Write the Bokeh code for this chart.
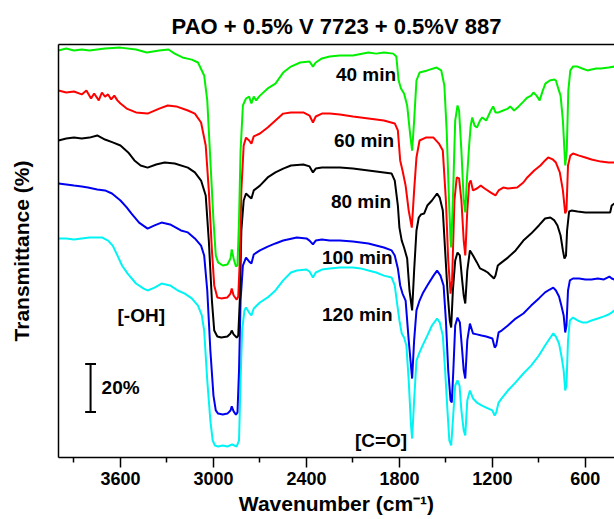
from bokeh.plotting import figure
from bokeh.models import Range1d, FixedTicker, LinearAxis, ColumnDataSource
from bokeh.core.properties import value
from bokeh.embed import file_html
from bokeh.resources import INLINE

# ---------------- data (offset transmittance, %) ----------------
wn_40 = [4000, 3950, 3900, 3850, 3800, 3700, 3600, 3500, 3430, 3350, 3290, 3250, 3200, 3140, 3100, 3060, 3040, 3020, 3000, 2985,
         2970, 2940, 2910, 2890, 2882, 2870, 2855, 2845, 2835, 2825, 2810, 2790, 2770, 2755, 2740, 2725, 2700, 2650, 2600, 2550,
         2500, 2440, 2380, 2358, 2340, 2300, 2250, 2184, 2100, 2000, 1950, 1900, 1840, 1820, 1805, 1790, 1770, 1750, 1730, 1718,
         1705, 1690, 1670, 1620, 1560, 1530, 1510, 1495, 1480, 1470, 1466, 1455, 1440, 1425, 1415, 1400, 1385, 1375, 1365, 1350,
         1340, 1330, 1315, 1300, 1280, 1265, 1240, 1210, 1195, 1180, 1160, 1130, 1100, 1085, 1060, 1030, 1000, 975, 950, 935,
         915, 895, 875, 858, 830, 800, 790, 775, 760, 745, 730, 720, 710, 697, 680, 650, 620, 587, 560, 530, 500, 450, 413]
t_40 = [169.6, 170.4, 169.6, 170.0, 169.6, 170.4, 170.8, 170.0, 168.8, 169.6, 170.0, 168.3, 166.7, 165.8, 164.6, 159.2, 148.8, 123.8, 98.8, 84.2,
        81.3, 80.0, 80.4, 82.9, 86.7, 82.9, 79.6, 80.0, 98.8, 127.9, 146.7, 149.6, 150.4, 147.5, 150.4, 148.8, 150.8, 153.8, 155.8, 160.4,
        162.9, 164.6, 165.0, 162.9, 164.6, 166.3, 167.1, 167.5, 167.5, 168.8, 168.3, 168.8, 168.3, 167.1, 157.1, 153.8, 151.7, 146.7, 134.2, 127.9,
        140.4, 157.1, 160.4, 161.3, 162.5, 161.3, 155.0, 136.3, 107.1, 90.4, 87.5, 107.1, 140.4, 146.7, 144.6, 127.9, 107.1, 102.1, 115.4, 130.0,
        138.3, 141.7, 138.3, 137.5, 140.4, 141.7, 140.4, 144.6, 146.3, 143.8, 143.8, 144.6, 145.4, 146.3, 144.6, 146.3, 148.3, 150.0, 150.8, 152.1,
        150.8, 148.8, 152.9, 155.8, 157.1, 157.5, 157.1, 153.8, 150.8, 140.4, 121.7, 127.9, 152.9, 161.3, 162.9, 162.9, 162.1, 161.3, 161.7, 162.1, 162.1, 162.5, 162.9]

wn_60 = [4000, 3950, 3900, 3850, 3820, 3790, 3770, 3740, 3720, 3700, 3680, 3660, 3640, 3620, 3600, 3560, 3500, 3425, 3350, 3295,
         3240, 3165, 3120, 3080, 3050, 3030, 3010, 2995, 2975, 2950, 2910, 2890, 2882, 2870, 2850, 2840, 2830, 2820, 2805, 2790,
         2770, 2755, 2740, 2700, 2650, 2600, 2550, 2500, 2420, 2380, 2358, 2340, 2300, 2250, 2184, 2100, 2000, 1900, 1830, 1810,
         1795, 1780, 1760, 1740, 1720, 1705, 1690, 1670, 1630, 1580, 1545, 1520, 1500, 1485, 1470, 1460, 1445, 1430, 1415, 1400,
         1385, 1375, 1362, 1350, 1340, 1325, 1300, 1275, 1250, 1210, 1180, 1160, 1130, 1100, 1040, 1000, 975, 930, 890, 860,
         840, 810, 790, 765, 745, 730, 722, 712, 697, 680, 640, 600, 560, 500, 450, 413]
t_60 = [152.9, 152.1, 152.5, 151.3, 152.9, 149.6, 151.7, 148.8, 152.1, 150.4, 151.3, 149.2, 150.8, 148.8, 147.5, 145.4, 143.8, 143.3, 145.4, 146.7,
        146.3, 144.6, 143.3, 139.6, 130.0, 111.3, 86.3, 71.7, 66.7, 66.3, 66.7, 68.3, 70.4, 67.5, 65.8, 67.1, 82.1, 111.3, 130.0, 133.3,
        132.1, 130.8, 133.8, 135.0, 137.5, 140.4, 143.3, 143.8, 143.8, 142.5, 139.6, 142.1, 143.3, 143.3, 142.9, 142.1, 141.3, 140.4, 139.2, 136.3,
        123.8, 119.6, 113.3, 102.9, 95.8, 111.3, 125.0, 132.1, 133.3, 133.3, 130.8, 127.9, 107.1, 82.1, 68.3, 73.8, 107.1, 116.7, 116.3, 107.1,
        90.4, 84.2, 102.9, 114.2, 115.4, 111.3, 112.1, 113.3, 112.1, 110.4, 109.2, 111.3, 112.5, 112.1, 112.5, 114.6, 116.7, 119.6, 121.7, 123.8,
        125.0, 124.2, 122.9, 118.8, 111.3, 101.7, 102.9, 121.7, 125.8, 126.7, 125.8, 125.0, 124.2, 123.3, 122.9, 122.9]

wn_80 = [4000, 3950, 3900, 3850, 3800, 3750, 3700, 3650, 3600, 3550, 3510, 3470, 3425, 3370, 3315, 3250, 3165, 3120, 3080, 3050,
         3030, 3010, 2995, 2975, 2950, 2910, 2890, 2882, 2870, 2850, 2840, 2830, 2820, 2805, 2790, 2770, 2755, 2740, 2700, 2650,
         2600, 2550, 2500, 2420, 2380, 2358, 2340, 2300, 2250, 2184, 2100, 2000, 1900, 1850, 1830, 1810, 1800, 1785, 1770, 1750,
         1735, 1718, 1705, 1690, 1675, 1660, 1640, 1620, 1590, 1557, 1540, 1520, 1505, 1490, 1475, 1466, 1455, 1440, 1425, 1410,
         1395, 1385, 1375, 1362, 1345, 1325, 1300, 1280, 1250, 1230, 1210, 1190, 1180, 1165, 1140, 1100, 1050, 1000, 950, 900,
         860, 826, 800, 780, 760, 745, 735, 725, 718, 705, 690, 650, 600, 540, 480, 440, 430, 413]
t_80 = [132.1, 132.9, 133.3, 132.9, 133.3, 134.2, 132.5, 131.3, 130.0, 127.1, 123.8, 121.7, 120.8, 122.1, 122.9, 122.5, 120.8, 118.8, 115.4, 109.2,
        90.4, 65.4, 52.9, 50.4, 50.0, 50.4, 51.7, 52.9, 51.3, 50.0, 50.8, 65.4, 94.6, 107.1, 110.0, 108.8, 107.9, 111.3, 113.3, 116.7,
        118.8, 120.4, 121.7, 122.1, 121.3, 118.8, 120.4, 120.8, 120.8, 120.8, 120.4, 119.6, 118.8, 118.3, 115.4, 105.0, 95.8, 90.4, 87.5, 82.9,
        69.6, 61.3, 77.9, 94.6, 100.0, 101.3, 101.7, 105.0, 107.1, 110.0, 108.3, 102.9, 86.3, 69.6, 57.1, 54.2, 69.6, 82.1, 85.4, 84.2,
        73.8, 67.5, 64.2, 77.9, 86.3, 84.2, 81.3, 78.8, 77.9, 77.1, 75.8, 74.6, 75.8, 80.0, 81.3, 83.3, 86.3, 90.4, 93.3, 96.7,
        99.6, 100.0, 98.8, 96.7, 92.5, 86.3, 82.9, 84.2, 94.6, 102.5, 102.9, 102.5, 102.1, 102.1, 102.1, 102.1, 105.0, 105.8]

wn_100 = [4000, 3950, 3900, 3850, 3810, 3750, 3700, 3655, 3600, 3560, 3530, 3480, 3425, 3380, 3335, 3280, 3210, 3165, 3120, 3080,
          3060, 3040, 3020, 3000, 2985, 2970, 2940, 2910, 2890, 2882, 2870, 2855, 2845, 2835, 2825, 2810, 2790, 2770, 2755, 2740,
          2700, 2650, 2600, 2550, 2462, 2400, 2380, 2358, 2340, 2300, 2250, 2184, 2100, 2000, 1900, 1850, 1830, 1810, 1795, 1780,
          1760, 1740, 1718, 1705, 1690, 1670, 1650, 1620, 1580, 1557, 1535, 1515, 1500, 1485, 1470, 1462, 1452, 1440, 1425, 1410,
          1395, 1385, 1375, 1362, 1345, 1325, 1300, 1270, 1240, 1200, 1185, 1175, 1160, 1140, 1100, 1050, 1000, 950, 900, 860,
          830, 807, 790, 770, 755, 740, 730, 722, 712, 700, 680, 640, 600, 560, 520, 480, 445, 430, 413]
t_100 = [114.2, 113.8, 113.3, 112.9, 112.5, 111.7, 111.3, 110.0, 107.1, 104.2, 101.7, 97.9, 95.4, 96.7, 97.9, 97.1, 94.6, 93.8, 91.3, 88.3,
         84.2, 69.6, 44.6, 25.8, 19.6, 18.3, 17.9, 18.3, 19.6, 21.3, 19.2, 17.9, 18.8, 36.3, 65.4, 80.0, 83.3, 81.7, 80.8, 84.6,
         86.3, 87.9, 89.2, 90.4, 91.7, 91.3, 90.4, 88.8, 90.4, 90.8, 90.4, 90.4, 90.0, 89.2, 87.5, 86.3, 84.2, 78.8, 71.7, 68.3,
         65.4, 48.8, 32.9, 48.8, 61.3, 65.4, 68.3, 71.7, 75.8, 77.9, 75.8, 71.7, 57.1, 36.3, 23.8, 22.9, 36.3, 55.0, 58.3, 56.3,
         44.6, 36.3, 32.9, 48.8, 55.8, 51.7, 51.3, 50.8, 50.4, 49.6, 45.8, 46.7, 52.1, 52.9, 55.0, 57.9, 60.0, 63.3, 66.3, 68.8,
         70.0, 70.8, 69.6, 67.1, 63.3, 59.2, 52.1, 55.0, 69.6, 73.8, 74.6, 74.6, 74.2, 74.2, 74.6, 74.2, 75.4, 74.6, 74.2]

wn_120 = [4000, 3950, 3900, 3850, 3800, 3750, 3720, 3680, 3650, 3620, 3590, 3555, 3500, 3450, 3425, 3380, 3335, 3280, 3230, 3185,
          3140, 3100, 3075, 3060, 3040, 3020, 3005, 2990, 2970, 2940, 2910, 2880, 2850, 2835, 2825, 2815, 2800, 2790, 2770, 2755,
          2740, 2700, 2650, 2600, 2550, 2500, 2462, 2400, 2380, 2358, 2340, 2300, 2250, 2184, 2100, 2050, 2000, 1950, 1900, 1850,
          1830, 1815, 1800, 1785, 1770, 1755, 1740, 1725, 1718, 1705, 1690, 1670, 1650, 1620, 1590, 1557, 1540, 1520, 1505, 1490,
          1478, 1466, 1455, 1440, 1425, 1412, 1400, 1385, 1375, 1362, 1345, 1325, 1300, 1270, 1240, 1200, 1185, 1175, 1160, 1140,
          1100, 1050, 1000, 950, 900, 860, 830, 807, 790, 770, 755, 740, 730, 722, 712, 700, 680, 650, 620, 590,
          560, 520, 480, 450, 430, 413]
t_120 = [91.3, 91.3, 90.8, 91.3, 91.7, 91.7, 91.7, 90.4, 88.3, 84.2, 80.0, 76.7, 72.5, 70.4, 69.6, 70.8, 72.5, 71.7, 69.6, 68.3,
         66.3, 63.3, 59.2, 52.9, 32.1, 15.4, 7.1, 5.0, 4.6, 5.0, 4.6, 5.4, 4.6, 7.1, 32.1, 52.9, 61.3, 62.5, 60.4, 59.2,
         62.1, 64.6, 66.7, 69.6, 73.8, 77.1, 77.9, 78.3, 77.5, 75.0, 77.1, 78.3, 78.8, 79.2, 79.2, 78.8, 77.9, 77.1, 75.8, 75.0,
         71.7, 64.2, 57.1, 51.7, 50.0, 46.7, 32.1, 13.3, 7.9, 23.8, 40.4, 43.8, 46.7, 50.8, 55.0, 57.9, 56.3, 50.8, 36.3, 19.6,
         7.1, 5.0, 15.4, 30.0, 32.1, 30.0, 19.6, 11.3, 9.2, 23.8, 27.9, 24.6, 22.9, 21.7, 20.8, 19.6, 17.5, 18.8, 22.9, 24.6,
         27.9, 31.3, 35.0, 38.3, 42.5, 46.7, 49.6, 51.7, 50.4, 47.5, 42.5, 36.3, 27.9, 30.0, 48.8, 57.1, 58.3, 57.1, 56.3, 56.3,
         57.1, 57.9, 58.8, 59.6, 60.4, 61.3]

series_labels = ["40 min", "60 min", "80 min", "100 min", "120 min"]
series_colors = ["#00f000", "#ff0000", "#000000", "#0000f0", "#00f4f4"]
label_wn = [2210, 2222, 2242, 2300, 2300]
label_t = [159.6, 132.1, 106.7, 83.5, 59.6]

band_labels = ["[-OH]", "[C=O]"]
band_wn = [3619, 2087]
band_t = [59.2, 7.1]

x_ticks = [3600, 3000, 2400, 1800, 1200, 600]
x_minor = [3900, 3300, 2700, 2100, 1500, 900]

scale_wn = 3793
scale_cap_half = 35
scale_lo, scale_hi = 19.0, 39.0
scale_text = "20%"
scale_text_wn = 3722

FONT = "Liberation Sans"

p = figure(width=614, height=519, output_backend="svg", toolbar_location=None,
           x_range=Range1d(4000, 412), y_range=Range1d(0, 172.1),
           min_border_left=58, min_border_right=0, min_border_top=44, min_border_bottom=62,
           title="PAO + 0.5% V 7723 + 0.5%V 887")
p.outline_line_color = None
p.xgrid.visible = False
p.ygrid.visible = False
p.background_fill_color = "white"
p.border_fill_color = "white"

p.title.align = "center"
p.title.vertical_align = "middle"
p.title.text_font = FONT
p.title.text_font_size = "22px"
p.title.text_font_style = "bold"
p.title.text_color = "black"

xa = p.xaxis[0]
xa.ticker = FixedTicker(ticks=x_ticks, minor_ticks=x_minor)
xa.axis_label = "Wavenumber (cm\u207b\u00b9)"
xa.axis_label_text_font = FONT
xa.axis_label_text_font_size = "21px"
xa.axis_label_text_font_style = "bold"
xa.axis_label_text_color = "black"
xa.major_label_text_font = FONT
xa.major_label_text_font_size = "18px"
xa.major_label_text_font_style = "bold"
xa.major_label_text_color = "black"
xa.major_tick_out = 10
xa.major_tick_in = 0
xa.minor_tick_out = 5
xa.minor_tick_in = 0
xa.axis_line_width = 1.5
xa.major_tick_line_width = 1.5
xa.minor_tick_line_width = 1.5
xa.major_label_standoff = 4
xa.axis_label_standoff = 4

ya = p.yaxis[0]
ya.ticker = FixedTicker(ticks=[])
ya.axis_label = "Transmittance (%)"
ya.axis_label_text_font = FONT
ya.axis_label_text_font_size = "21px"
ya.axis_label_text_font_style = "bold"
ya.axis_label_text_color = "black"
ya.major_label_text_font_size = "0px"
ya.major_tick_out = 0
ya.major_tick_in = 0
ya.minor_tick_out = 0
ya.minor_tick_in = 0
ya.major_label_standoff = 0
ya.axis_label_standoff = 26
ya.axis_line_width = 1.5

top_axis = LinearAxis(ticker=FixedTicker(ticks=[]), major_label_text_font_size="0px",
                      major_tick_out=0, major_tick_in=0, minor_tick_out=0, minor_tick_in=0,
                      major_label_standoff=0, axis_line_width=1.5)
p.add_layout(top_axis, "above")

all_wn = [wn_40, wn_60, wn_80, wn_100, wn_120]
all_t = [t_40, t_60, t_80, t_100, t_120]
for i in [4, 3, 2, 1, 0]:
    p.line(all_wn[i], all_t[i], line_color=series_colors[i], line_width=2)

src = ColumnDataSource(dict(x=label_wn, y=label_t, text=series_labels))
p.text(x="x", y="y", text="text", source=src, text_font=value(FONT), text_font_size="19px",
       text_font_style="bold", text_baseline="middle", text_align="left", text_color="black")

bsrc = ColumnDataSource(dict(x=band_wn, y=band_t, text=band_labels))
p.text(x="x", y="y", text="text", source=bsrc, text_font=value(FONT), text_font_size="19px",
       text_font_style="bold", text_baseline="middle", text_align="left", text_color="black")

# 20% scale bar
p.segment(x0=[scale_wn, scale_wn - scale_cap_half, scale_wn - scale_cap_half],
          y0=[scale_lo, scale_lo, scale_hi],
          x1=[scale_wn, scale_wn + scale_cap_half, scale_wn + scale_cap_half],
          y1=[scale_hi, scale_lo, scale_hi], line_color="black", line_width=2)
p.text(x=[scale_text_wn], y=[(scale_lo + scale_hi) / 2], text=[scale_text], text_font=value(FONT),
       text_font_size="19px", text_font_style="bold", text_baseline="middle", text_align="left")

open("out.html", "w").write(file_html(p, INLINE))
